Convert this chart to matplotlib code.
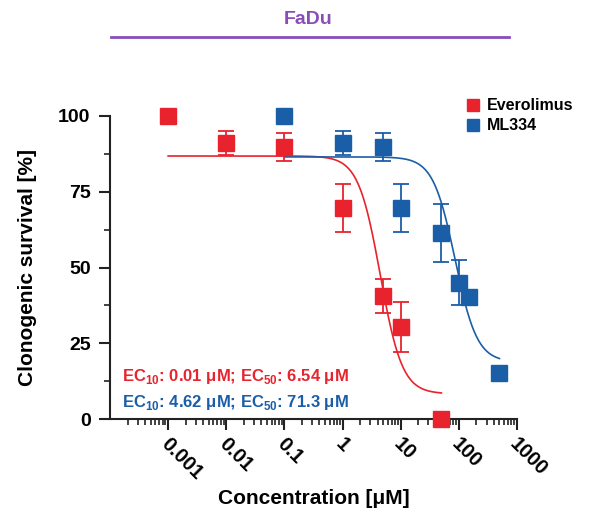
import numpy as np
import matplotlib
matplotlib.use("Agg")
import matplotlib.pyplot as plt
import matplotlib.transforms as mtransforms
from matplotlib.lines import Line2D

plt.rcParams['font.family'] = ['Liberation Sans', 'DejaVu Sans']
plt.rcParams['font.weight'] = 'bold'
plt.rcParams['mathtext.fontset'] = 'custom'
plt.rcParams['mathtext.rm'] = 'Liberation Sans:bold'
plt.rcParams['mathtext.bf'] = 'Liberation Sans:bold'

# Data
evero_conc = [0.001, 0.01, 0.1, 1, 5, 10, 50]
evero_surv = [100, 91, 89.8, 69.6, 40.6, 30.4, 0]
evero_err = [0, 4, 4.5, 8, 5.5, 8.3, 0]

ml_conc = [0.1, 1, 5, 10, 50, 100, 150, 500]
ml_surv = [100, 91, 89.8, 69.6, 61.3, 45.0, 40.3, 15.3]
ml_err = [0, 4, 4.5, 8, 9.5, 7.5, 0, 0]

x_ticks = [1e-3, 1e-2, 1e-1, 1, 10, 100, 1000]
x_ticklabels = ['0.001', '0.01', '0.1', '1', '10', '100', '1000']
y_ticks = [0, 25, 50, 75, 100]

# 4-parameter logistic fit parameters (top, bottom, midpoint, hill), fit range
evero_fit = dict(top=86.8, bottom=8.3, mid=4.45, hill=2.3, lo=0.001, hi=50)
ml_fit = dict(top=86.5, bottom=18.8, mid=86.0, hill=2.3, lo=0.1, hi=500)

red = '#E8232E'
blue = '#1B5EA8'
purple = '#8A4DB8'
dark = '#222222'

fig = plt.figure(figsize=(5.90, 5.19), dpi=100)
ax = fig.add_axes([110/590, (519-419)/519, (517-110)/590, (419-116)/519])

def curve(p):
    x = np.logspace(np.log10(p['lo']), np.log10(p['hi']), 400)
    y = p['bottom'] + (p['top'] - p['bottom']) / (1 + (x / p['mid']) ** p['hill'])
    return x, y

for conc, surv, err, fit, col in [
        (evero_conc, evero_surv, evero_err, evero_fit, red),
        (ml_conc, ml_surv, ml_err, ml_fit, blue)]:
    cx, cy = curve(fit)
    ax.plot(cx, cy, color=col, lw=1.2, clip_on=False, zorder=2)
    c = np.array(conc); s = np.array(surv); e = np.array(err)
    m = e > 0
    ax.errorbar(c[m], s[m], yerr=e[m], fmt='none', ecolor=col, capsize=6,
                elinewidth=1.3, capthick=1.3, clip_on=False, zorder=3)
    ax.plot(c, s, 's', color=col, ms=11, clip_on=False, zorder=4)

ax.set_xscale('log')
ax.set_xlim(1e-4, 1e3)
ax.set_ylim(0, 100)
ax.set_yticks(y_ticks)
ax.set_yticks([12.5, 37.5, 62.5, 87.5], minor=True)
ax.set_xticks(x_ticks)
ax.set_xticklabels(x_ticklabels, rotation=-45, ha='left', va='top')
ax.xaxis.set_minor_locator(matplotlib.ticker.LogLocator(base=10, subs=np.arange(2, 10), numticks=20))
ax.xaxis.set_minor_formatter(matplotlib.ticker.NullFormatter())

for s in ['top', 'right']:
    ax.spines[s].set_visible(False)
for s in ['left', 'bottom']:
    ax.spines[s].set_linewidth(1.5)
    ax.spines[s].set_color(dark)
ax.tick_params(axis='both', which='major', length=8, width=1.5, labelsize=14, colors=dark)
ax.tick_params(axis='both', which='minor', length=4, width=1.2, colors=dark)
ax.tick_params(axis='y', pad=6)
ax.tick_params(axis='x', labelsize=14.5, pad=3)
offset = mtransforms.ScaledTranslation(-8/72, 0, fig.dpi_scale_trans)
for t in ax.get_xticklabels():
    t.set_transform(t.get_transform() + offset)
for t in ax.get_xticklabels() + ax.get_yticklabels():
    t.set_fontweight('bold')
    t.set_color('black')

ax.set_ylabel('Clonogenic survival [%]', fontsize=15, fontweight='bold', labelpad=15)
ax.set_xlabel('Concentration [μM]', fontsize=15, fontweight='bold', labelpad=4)

ax.text(0.03, 0.14, r'EC$_{10}$: 0.01 μM; EC$_{50}$: 6.54 μM', color=red,
        transform=ax.transAxes, fontsize=12, fontweight='bold', va='center')
ax.text(0.03, 0.055, r'EC$_{10}$: 4.62 μM; EC$_{50}$: 71.3 μM', color=blue,
        transform=ax.transAxes, fontsize=12, fontweight='bold', va='center')

handles = [Line2D([], [], marker='s', color=red, ls='none', ms=8),
           Line2D([], [], marker='s', color=blue, ls='none', ms=8)]
leg = ax.legend(handles, ['Everolimus', 'ML334'], loc='upper left',
                bbox_to_anchor=(460/590, 1 - 92/519), bbox_transform=fig.transFigure,
                frameon=False, fontsize=11.5, handlelength=0.8, handletextpad=0.5,
                labelspacing=0.3, borderaxespad=0)
for t in leg.get_texts():
    t.set_fontweight('bold')

fig.text(308/590, 1 - 20/519, 'FaDu', color=purple, fontsize=14, fontweight='bold',
         ha='center', va='center')
fig.add_artist(Line2D([111/590, 509/590], [1 - 37/519, 1 - 37/519], color=purple,
                      lw=2, transform=fig.transFigure))

fig.savefig('out.png', dpi=100)
